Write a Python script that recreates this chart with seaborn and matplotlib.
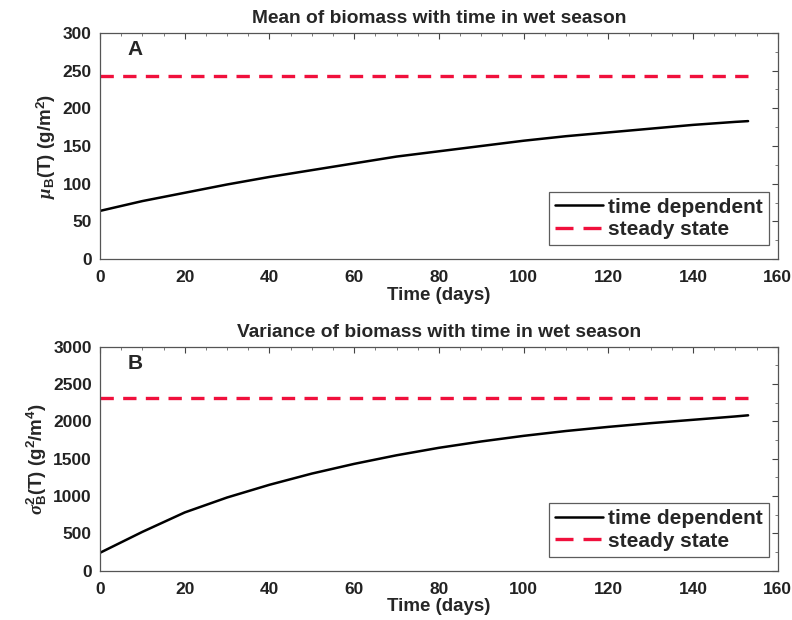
import numpy as np
import pandas as pd
import matplotlib
matplotlib.use("Agg")
import matplotlib.pyplot as plt
import seaborn as sns
from matplotlib.ticker import MultipleLocator

# Time axis (days in the wet season)
days = [0, 10, 20, 30, 40, 50, 60, 70, 80, 90, 100, 110, 120, 130, 140, 150, 153]

# Mean biomass (g/m^2)
mean_time_dependent = [64, 77, 88, 99, 109, 118, 127, 136, 143, 150, 157, 163, 168, 173, 178, 182, 183]
mean_steady_state = 243

# Variance of biomass (g^2/m^4)
var_time_dependent = [240, 520, 780, 980, 1150, 1300, 1430, 1545, 1645, 1730, 1805,
                      1870, 1925, 1975, 2020, 2065, 2080]
var_steady_state = 2310

series_names = ["time dependent", "steady state"]
panel_titles = ["Mean of biomass with time in wet season",
                "Variance of biomass with time in wet season"]
panel_letters = ["A", "B"]
y_labels = [r"$\mu_\mathbf{B}$(T) (g/m$^\mathbf{2}$)",
            r"$\sigma^\mathbf{2}_\mathbf{B}$(T) (g$^\mathbf{2}$/m$^\mathbf{4}$)"]

sns.set_theme(style="white")
plt.rcParams["font.family"] = ["Liberation Sans", "DejaVu Sans"]
plt.rcParams["font.weight"] = "bold"
plt.rcParams["mathtext.fontset"] = "custom"
plt.rcParams["mathtext.rm"] = "Liberation Sans:bold"
plt.rcParams["mathtext.bf"] = "Liberation Sans:bold"
plt.rcParams["mathtext.it"] = "Liberation Serif:italic"

fig = plt.figure(figsize=(7.92, 6.2), dpi=100)
ax_top = fig.add_axes([0.1263, 0.582, 0.8557, 0.365])
ax_bot = fig.add_axes([0.1263, 0.0795, 0.8557, 0.3615])

red = "#f0103c"
dash_pattern = (4.0, 2.8)
panels = [
    (ax_top, mean_time_dependent, mean_steady_state, 300, 50, 25),
    (ax_bot, var_time_dependent, var_steady_state, 3000, 500, 250),
]

for i, (ax, td, ss, ymax, ystep, yminor) in enumerate(panels):
    df = pd.DataFrame({
        "Time (days)": days * 2,
        "value": td + [ss] * len(days),
        "series": [series_names[0]] * len(days) + [series_names[1]] * len(days),
    })
    sns.lineplot(data=df[df.series == series_names[0]], x="Time (days)", y="value",
                 color="black", lw=1.8, ax=ax, label=series_names[0])
    sns.lineplot(data=df[df.series == series_names[1]], x="Time (days)", y="value",
                 color=red, lw=2.4, ax=ax, label=series_names[1])
    ax.lines[1].set_dashes(dash_pattern)

    ax.set_xlim(0, 160)
    ax.set_ylim(0, ymax)
    ax.xaxis.set_major_locator(MultipleLocator(20))
    ax.xaxis.set_minor_locator(MultipleLocator(5))
    ax.yaxis.set_major_locator(MultipleLocator(ystep))
    ax.yaxis.set_minor_locator(MultipleLocator(yminor))
    ax.tick_params(which="both", direction="in", top=True, right=True,
                   colors="#444444", labelcolor="#222222")
    ax.tick_params(which="major", length=4, width=0.8, labelsize=12.5)
    ax.tick_params(axis="x", which="major", pad=8)
    ax.tick_params(axis="y", which="major", pad=6)
    ax.tick_params(which="minor", length=2, width=0.5)
    for lab in ax.get_xticklabels() + ax.get_yticklabels():
        lab.set_fontweight("bold")
    for s in ax.spines.values():
        s.set_color("#555555")
        s.set_linewidth(0.9)

    ax.set_xlabel("Time (days)", fontsize=13.5, fontweight="bold", labelpad=1)
    ax.set_ylabel(y_labels[i], fontsize=13.5, fontweight="bold", labelpad=3)
    ax.set_title(panel_titles[i], fontsize=13.8, fontweight="bold", pad=7)
    ax.text(0.04, 0.925, panel_letters[i], transform=ax.transAxes,
            fontsize=15, fontweight="bold", va="center", ha="left")

    leg = ax.legend(loc="lower right", bbox_to_anchor=(0.987, 0.062),
                    fontsize=15, frameon=True, fancybox=False,
                    handlelength=2.3, handletextpad=0.25, borderpad=0.3,
                    labelspacing=0.15, borderaxespad=0)
    leg.get_frame().set_edgecolor("#333333")
    leg.get_frame().set_linewidth(0.9)
    for t in leg.get_texts():
        t.set_fontweight("bold")
    leg.get_lines()[1].set_dashes((5.4, 3.0))

fig.savefig("out.png", dpi=100, facecolor="white")
